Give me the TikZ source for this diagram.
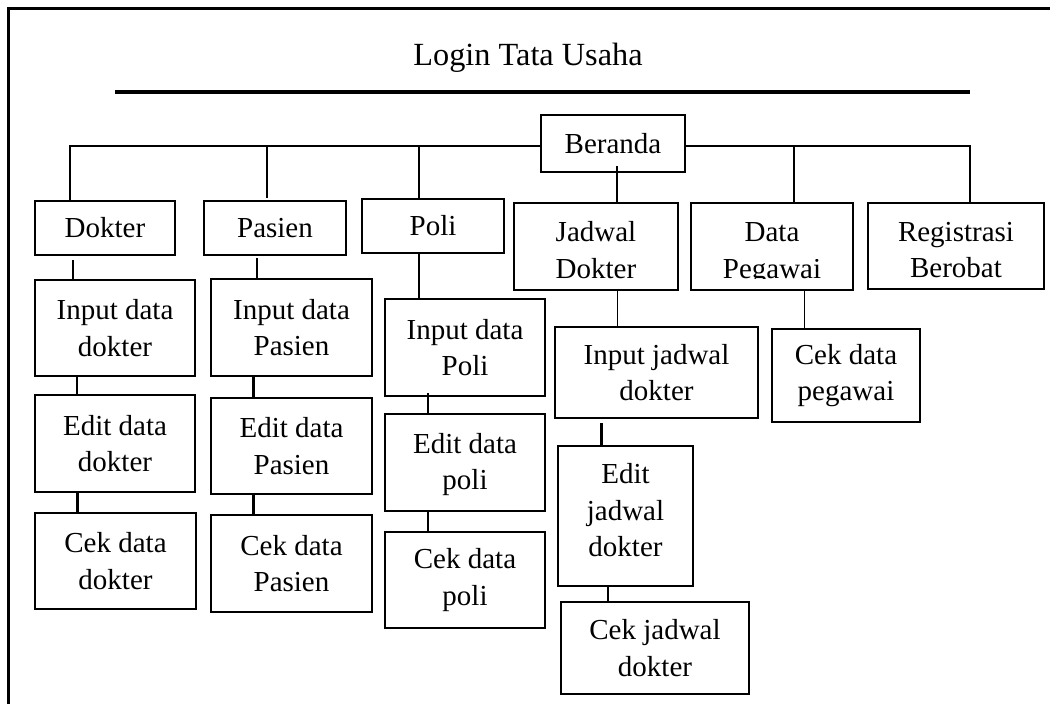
\documentclass[tikz,border=0pt]{standalone}
\usepackage{fontspec}
\usepackage{trimclip}
\setmainfont{Liberation Serif}
\usetikzlibrary{calc}
\begin{document}
\begin{tikzpicture}[x=1pt,y=-1pt,
  box/.style={draw, line width=2.6pt, inner sep=0pt, outer sep=0pt, align=center,
    font=\fontsize{29}{36.5}\selectfont},
  wh/.style 2 args={minimum width=#1pt, minimum height=#2pt},
  tn/.style={line width=1.2pt},
  tk/.style={line width=2.3pt}]
\useasboundingbox (0,0) rectangle (1050,704);
% frame
\draw[line width=2.6pt] (8.3,704) -- (8.3,8.5) -- (1050,8.5);
% title
\node[anchor=base, font=\fontsize{32.3}{36}\selectfont, inner sep=0pt] (title) at (528,65) {Login Tata Usaha};
\draw[line width=4pt] (115,91.7) -- (970,91.7);
% level 0 / 1
\node[box, wh={144}{57}] (ber) at (613,143.5) {Beranda};
\node[box, wh={140}{54}] (dok) at (105,228) {Dokter};
\node[box, wh={142}{54}] (pas) at (275,228) {Pasien};
\node[box, wh={142}{54}] (pol) at (433,226) {Poli};
\node[box, wh={164}{87}] (jad) at (596,246.5) {\rule{0pt}{27.2pt}Jadwal\\Dokter};
\node[box, wh={162}{87}] (dpg) at (772,246.5) {\rule{0pt}{27.2pt}Data\\\clipbox{0pt 6pt 0pt 0pt}{Pegawai}};
\node[box, wh={176}{86}] (reg) at (956,246) {\rule{0pt}{27.2pt}Registrasi\\Berobat};
% level 2+
\node[box, wh={160}{96}] (idd) at (115,328) {Input data\\dokter};
\node[box, wh={160}{97}] (edd) at (115,443.5) {Edit data\\dokter};
\node[box, wh={161}{96}] (cdd) at (115.5,561) {Cek data\\dokter};
\node[box, wh={161}{97}] (idp) at (291.5,327.5) {Input data\\Pasien};
\node[box, wh={161}{96}] (edp) at (291.5,446) {Edit data\\Pasien};
\node[box, wh={161}{97}] (cdp) at (291.5,563.5) {Cek data\\Pasien};
\node[box, wh={160}{97}] (ipo) at (465,347.5) {Input data\\Poli};
\node[box, wh={160}{97}] (epo) at (465,462.5) {\rule{0pt}{23.7pt}Edit data\\poli};
\node[box, wh={160}{96}] (cpo) at (465,580) {Cek data\\poli};
\node[box, wh={203}{91}] (ijd) at (656.5,372.5) {Input jadwal\\dokter};
\node[box, wh={135}{140}] (ejd) at (625.5,516) {Edit\\jadwal\\dokter\rule[-12pt]{0pt}{12pt}};
\node[box, wh={188}{92}] (cjd) at (655,648) {Cek jadwal\\dokter};
\node[box, wh={148}{93}] (cpg) at (846,375.5) {Cek data\\pegawai};
% bus
\coordinate (bus) at ($(ber.west)+(0,2.5)$);
\coordinate (busR) at ($(ber.east)+(0,2.5)$);
\coordinate (dkT) at ($(dok.north west)+(35,0)$);
\coordinate (psT) at ($(pas.north west)+(63,-3)$);
\coordinate (plT) at ($(pol.north west)+(57,-1)$);
\coordinate (dgT) at ($(dpg.north west)+(103,0)$);
\coordinate (rgT) at ($(reg.north west)+(102,0)$);
\coordinate (jdT) at ($(jad.north west)+(103,0)$);
\draw[tn] (bus) -- (dkT |- bus) -- (dkT);
\draw[tn] (busR) -- (rgT |- busR) -- (rgT);
\draw[tn] (psT) -- (psT |- bus);
\draw[tn] (plT) -- (plT |- bus);
\draw[tn] (dgT) -- (dgT |- busR);
\draw[tk] ($(ber.south)+(4,-6)$) -- (jdT);
% Dokter column
\draw[tk] ($(dok.south west)+(37.7,5)$) -- ($(idd.north west)+(37.7,0)$);
\draw[tk] ($(idd.south west)+(42,0)$) -- ($(edd.north west)+(42,0)$);
\draw[tk] ($(edd.south west)+(42.4,0)$) -- ($(cdd.north west)+(42.4,0)$);
% Pasien column
\draw[tk] ($(pas.south west)+(53,3)$) -- ($(idp.north west)+(46,0)$);
\draw[tk] ($(idp.south west)+(42.5,0)$) -- ($(edp.north west)+(42.5,0)$);
\draw[tk] ($(edp.south west)+(42.5,0)$) -- ($(cdp.north west)+(42.5,0)$);
% Poli column
\draw[tn] ($(pol.south west)+(57,0)$) -- ($(ipo.north west)+(34,0)$);
\draw[tk] ($(ipo.south west)+(42.7,-3)$) -- ($(epo.north west)+(42.7,0)$);
\draw[tk] ($(epo.south west)+(42.7,0)$) -- ($(cpo.north west)+(42.7,0)$);
% Jadwal column
\draw[tn] ($(jad.south west)+(103.5,0)$) -- ($(ijd.north west)+(62.5,0)$);
\draw[tk] ($(ijd.south west)+(46.5,5)$) -- ($(ejd.north west)+(43.5,0)$);
\draw[tk] ($(ejd.south west)+(49.7,0)$) -- ($(cjd.north west)+(46.7,0)$);
% Pegawai column
\draw[tn] ($(dpg.south west)+(113.4,0)$) -- ($(cpg.north west)+(32.4,0)$);
\end{tikzpicture}
\end{document}
